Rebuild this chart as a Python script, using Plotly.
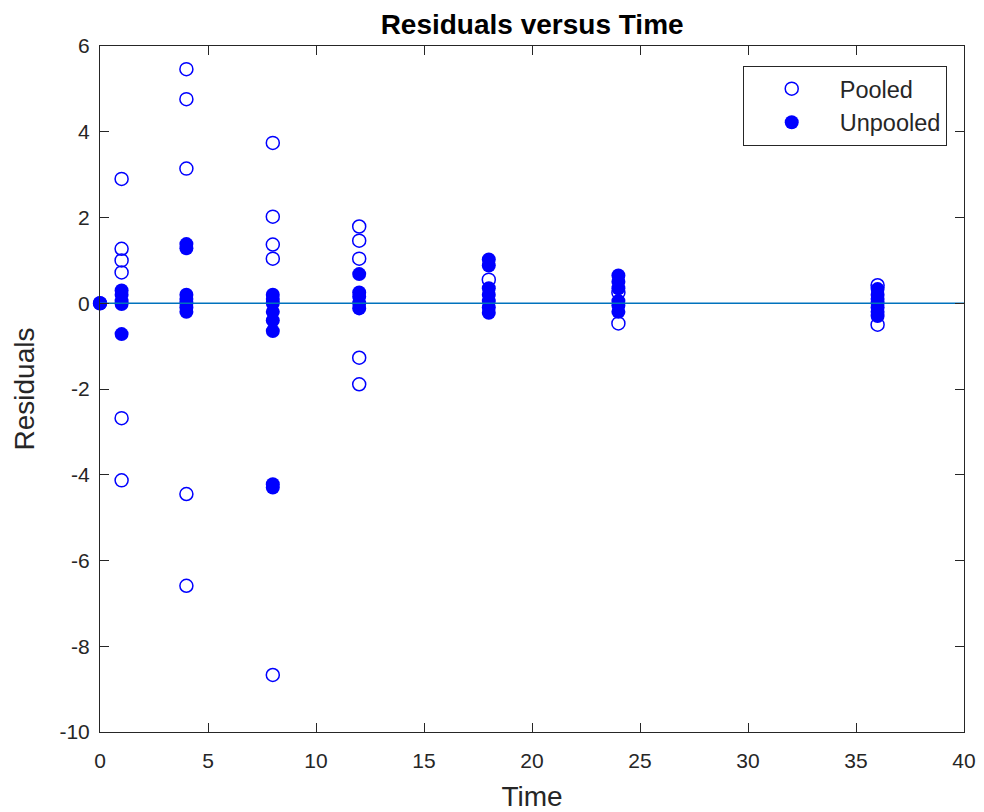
import plotly.graph_objects as go

# ---- data ----
pooled_time = [0, 1, 1, 1, 1, 1, 1,
               4, 4, 4, 4, 4,
               8, 8, 8, 8, 8,
               12, 12, 12, 12, 12,
               18, 24, 24, 36, 36]
pooled_resid = [0, 2.9, 1.27, 1.0, 0.72, -2.68, -4.13,
                5.46, 4.76, 3.14, -4.45, -6.59,
                3.74, 2.02, 1.37, 1.04, -8.67,
                1.79, 1.46, 1.04, -1.27, -1.89,
                0.55, 0.25, -0.47, 0.42, -0.5]

unpooled_time = [0, 1, 1, 1, 1, 1,
                 4, 4, 4, 4, 4, 4, 4,
                 8, 8, 8, 8, 8, 8, 8, 8,
                 12, 12, 12, 12, 12,
                 18, 18, 18, 18, 18, 18, 18,
                 24, 24, 24, 24, 24, 24,
                 36, 36, 36, 36, 36, 36, 36]
unpooled_resid = [0, 0.3, 0.2, 0.05, -0.02, -0.72,
                  1.38, 1.28, 0.2, 0.1, 0.0, -0.1, -0.2,
                  0.2, 0.1, 0.0, -0.2, -0.4, -0.65, -4.22, -4.3,
                  0.68, 0.25, 0.15, 0.0, -0.12,
                  1.02, 0.88, 0.35, 0.2, 0.05, -0.1, -0.22,
                  0.65, 0.5, 0.35, 0.05, -0.05, -0.2,
                  0.33, 0.2, 0.1, 0.0, -0.1, -0.2, -0.3]

ref_x = [0, 40]
ref_y = [0, 0]

x_ticks = [0, 5, 10, 15, 20, 25, 30, 35, 40]
x_ticklabels = ["0", "5", "10", "15", "20", "25", "30", "35", "40"]
y_ticks = [-10, -8, -6, -4, -2, 0, 2, 4, 6]
y_ticklabels = ["-10", "-8", "-6", "-4", "-2", "0", "2", "4", "6"]

FONT = "Liberation Sans, Arial, Helvetica, sans-serif"
AX = "#262626"

fig = go.Figure()
fig.add_trace(go.Scatter(
    x=pooled_time, y=pooled_resid, mode="markers", name="Pooled",
    marker=dict(symbol="circle-open", size=13, color="#0000FF",
                line=dict(width=1.5, color="#0000FF")),
    cliponaxis=False))
fig.add_trace(go.Scatter(
    x=unpooled_time, y=unpooled_resid, mode="markers", name="Unpooled",
    marker=dict(symbol="circle", size=14, color="#0000FF",
                line=dict(width=0)),
    cliponaxis=False))
fig.add_trace(go.Scatter(
    x=ref_x, y=ref_y, mode="lines", showlegend=False,
    line=dict(color="#0072BD", width=1.3), hoverinfo="skip"))

axis_common = dict(
    showgrid=False, zeroline=False, showline=True, linecolor=AX,
    linewidth=1, mirror="allticks", ticks="inside", ticklen=9,
    tickcolor=AX, tickwidth=1,
    tickfont=dict(family=FONT, size=21, color=AX),
)

# page body has an 8px default margin, so the figure is 8px smaller
fig.update_layout(
    width=976, height=804,
    margin=dict(l=92, r=20, t=38, b=80, autoexpand=False),
    paper_bgcolor="white", plot_bgcolor="white",
    title=dict(text="<b>Residuals versus Time</b>", x=0.537, xanchor="center",
               y=0.9800, yanchor="middle",
               font=dict(family=FONT, size=28, color="black")),
    xaxis=dict(range=[0, 40], tickvals=x_ticks, ticktext=x_ticklabels,
               ticklabelstandoff=10,
               title=dict(text="Time", font=dict(family=FONT, size=28, color=AX),
                          standoff=18),
               **axis_common),
    yaxis=dict(range=[-10, 6], tickvals=y_ticks, ticktext=y_ticklabels,
               ticklabelstandoff=5,
               title=dict(text="Residuals", font=dict(family=FONT, size=28, color=AX),
                          standoff=16),
               **axis_common),
    legend=dict(x=0.980, y=0.971, xanchor="right", yanchor="top",
                bgcolor="white", bordercolor=AX, borderwidth=1,
                font=dict(family=FONT, size=23.5, color=AX),
                itemwidth=86),
    showlegend=True,
)

fig.write_html("out.html")
